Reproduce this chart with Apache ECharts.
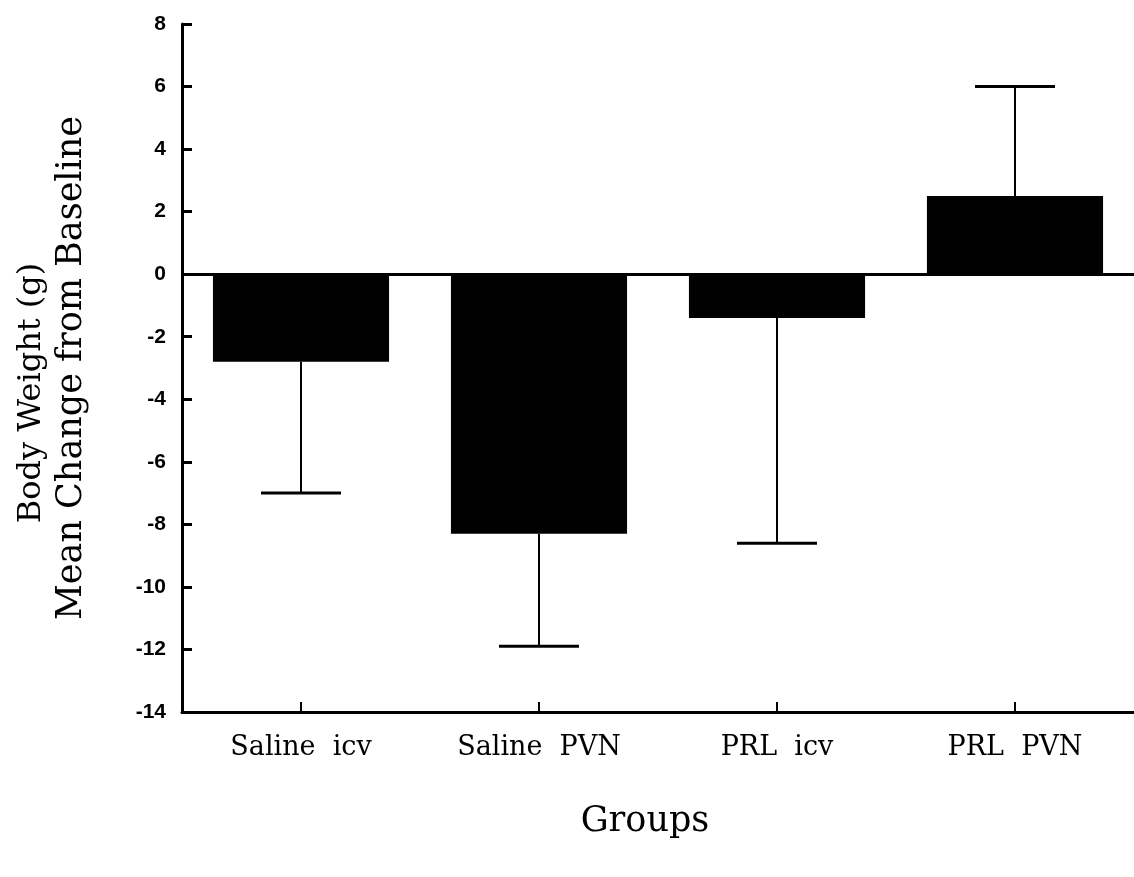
<!DOCTYPE html>
<html>
<head>
<meta charset="utf-8">
<title>Body weight change</title>
<script src="https://cdn.jsdelivr.net/npm/echarts@6/dist/echarts.min.js"></script>
<style>
  html, body { margin: 0; padding: 0; background: #fff; }
  #chart { width: 1134px; height: 877px; }
</style>
</head>
<body>
<div id="chart"></div>
<script>
// groups on the x axis
const groups = ['Saline  icv', 'Saline  PVN', 'PRL  icv', 'PRL  PVN']
// mean change from baseline (g)
const meanChange = [-2.8, -8.3, -1.4, 2.5]
// end of the error bar (drawn away from zero only)
const errorEnd = [-7.0, -11.9, -8.6, 6.0]
// y axis
const yMin = -14
const yMax = 8
const yStep = 2

const serif = '"DejaVu Serif", "Liberation Serif", serif'
const sans = '"Liberation Sans", Arial, sans-serif'

const chart = echarts.init(document.getElementById('chart'))

chart.setOption({
  backgroundColor: '#fff',
  animation: false,
  grid: {
    left: 182,
    right: 0,
    top: 24,
    bottom: 165
  },
  xAxis: {
    type: 'category',
    data: groups,
    name: 'Groups',
    nameLocation: 'middle',
    nameGap: 92,
    nameTextStyle: { fontFamily: serif, fontSize: 35, color: '#000', padding: [0, 26, 0, 0] },
    axisLine: { onZero: false, lineStyle: { color: '#000', width: 3 } },
    axisTick: { show: true, inside: true, alignWithLabel: true, length: 10, lineStyle: { color: '#000', width: 2 } },
    axisLabel: { margin: 22, fontFamily: serif, fontSize: 27, color: '#000' },
    splitLine: { show: false }
  },
  yAxis: {
    type: 'value',
    min: yMin,
    max: yMax,
    interval: yStep,
    name: '{a|Body Weight (g)}\n{b|Mean Change from Baseline}',
    nameLocation: 'middle',
    nameRotate: 90,
    nameGap: 90,
    nameTextStyle: {
      color: '#000',
      rich: {
        a: { fontFamily: serif, fontSize: 32, lineHeight: 40, color: '#000', padding: [0, 50, 0, 0] },
        b: { fontFamily: serif, fontSize: 35, lineHeight: 40, color: '#000' }
      }
    },
    axisLine: { show: true, lineStyle: { color: '#000', width: 3 } },
    axisTick: { show: true, inside: true, length: 10, lineStyle: { color: '#000', width: 3 } },
    axisLabel: { margin: 16, fontFamily: sans, fontWeight: 'bold', fontSize: 21, color: '#000' },
    splitLine: { show: false }
  },
  series: [
    {
      type: 'bar',
      data: meanChange,
      barWidth: '74%',
      itemStyle: { color: '#000' },
      markLine: {
        silent: true,
        symbol: 'none',
        label: { show: false },
        lineStyle: { color: '#000', width: 3, type: 'solid' },
        data: [{ yAxis: 0 }]
      }
    },
    {
      type: 'custom',
      data: errorEnd.map((v, i) => [i, meanChange[i], v]),
      z: 3,
      renderItem(params, api) {
        const from = api.coord([api.value(0), api.value(1)])
        const to = api.coord([api.value(0), api.value(2)])
        const half = 40
        return {
          type: 'group',
          children: [
            {
              type: 'line',
              shape: { x1: from[0], y1: from[1], x2: to[0], y2: to[1] },
              style: { stroke: '#000', lineWidth: 2 }
            },
            {
              type: 'line',
              shape: { x1: to[0] - half, y1: to[1], x2: to[0] + half, y2: to[1] },
              style: { stroke: '#000', lineWidth: 3 }
            }
          ]
        }
      }
    }
  ]
})
</script>
</body>
</html>
